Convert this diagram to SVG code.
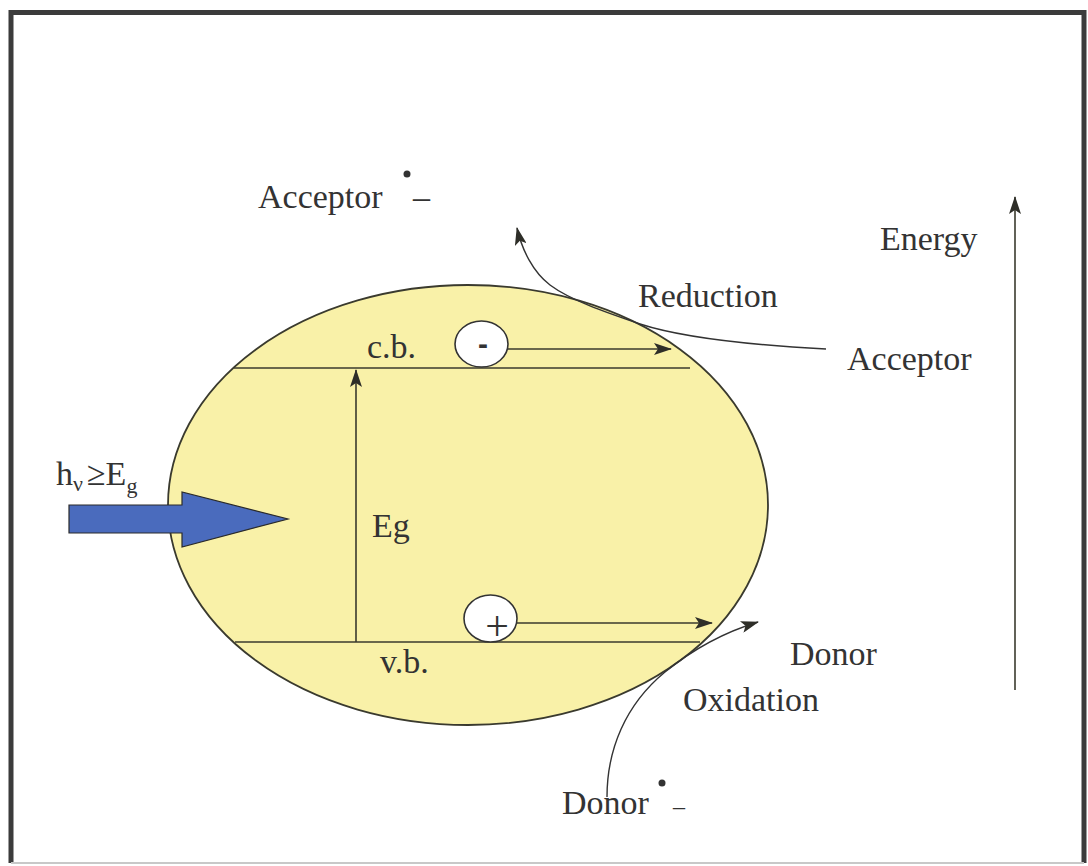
<svg xmlns="http://www.w3.org/2000/svg" width="1088" height="866" viewBox="0 0 1088 866">
<style>
.t{font-family:"Liberation Serif","Times New Roman",serif;font-size:34px;fill:#333}
.ln{stroke:#3a3a2e;stroke-width:1.6;fill:none}
.cv{stroke:#333;stroke-width:1.4;fill:none}
</style>
<defs>
<marker id="ah" markerWidth="18" markerHeight="12" refX="17" refY="6" orient="auto" markerUnits="userSpaceOnUse">
<path d="M0,0 L18,6 L0,12 L4,6 z" fill="#2e2e28"/>
</marker>
</defs>
<rect width="1088" height="866" fill="#fff"/>
<g id="frame">
<path d="M11,863 L11,12.5 L1084,12.5 L1084,863" fill="none" stroke="#3b3b3b" stroke-width="5"/>
<line x1="11" y1="863" x2="1084" y2="863" stroke="#c8c8c8" stroke-width="2"/>
</g>
<g id="particle">
<ellipse cx="468" cy="505" rx="300" ry="220" fill="#f9f1a8" stroke="#3a3a2e" stroke-width="1.8"/>
</g>
<g id="connectors">
<line class="ln" x1="234" y1="368" x2="690" y2="368"/>
<line class="ln" x1="235" y1="642" x2="700" y2="642"/>
<line class="ln" x1="356" y1="642" x2="356" y2="370" marker-end="url(#ah)"/>
<line class="ln" x1="508" y1="349" x2="671" y2="349" marker-end="url(#ah)"/>
<line class="ln" x1="517" y1="623" x2="712" y2="623" marker-end="url(#ah)"/>
<line class="ln" x1="1015" y1="690" x2="1015" y2="197" marker-end="url(#ah)"/>
<path class="cv" d="M826,349 C750,345 680,337 640,324 C605,312 570,300 550,285 C533,272 522,250 517,228" marker-end="url(#ah)"/>
<path class="cv" d="M607,797 C607,750 625,705 665,672 C692,650 725,632 758,622" marker-end="url(#ah)"/>
</g>
<g id="light">
<path d="M69,505 L182,505 L182,492 L288,519 L182,547 L182,533 L69,533 z" fill="#4a6bbd" stroke="#2a2a2a" stroke-width="1.2"/>
<text class="t" x="56" y="485">h<tspan font-size="22" dy="6">ν</tspan><tspan dy="-6" dx="4">≥E</tspan><tspan font-size="22" dy="8">g</tspan></text>
</g>
<g id="electron">
<ellipse cx="481.5" cy="344" rx="26.5" ry="23" fill="#fff" stroke="#333" stroke-width="1.6"/>
<text x="483" y="354" text-anchor="middle" style="font-family:'Liberation Sans',Arial,sans-serif;font-size:30px;font-weight:bold;fill:#333">-</text>
</g>
<g id="hole">
<ellipse cx="490.5" cy="618.5" rx="26.5" ry="23.5" fill="#fff" stroke="#333" stroke-width="1.6"/>
<text x="497" y="640" text-anchor="middle" class="t" style="font-size:42px">+</text>
</g>
<g id="labels">
<text class="t" x="367" y="358">c.b.</text>
<text class="t" x="380" y="673">v.b.</text>
<text class="t" x="372" y="537">Eg</text>
<text class="t" x="258" y="208">Acceptor</text>
<circle cx="407" cy="174" r="3.5" fill="#333"/>
<text class="t" x="413" y="208">–</text>
<text class="t" x="880" y="250">Energy</text>
<text class="t" x="638" y="307">Reduction</text>
<text class="t" x="847" y="370">Acceptor</text>
<text class="t" x="790" y="665">Donor</text>
<text class="t" x="683" y="711">Oxidation</text>
<text class="t" x="562" y="814">Donor</text>
<circle cx="662" cy="783" r="3.5" fill="#333"/>
<text class="t" x="673" y="814" style="font-size:24px">–</text>
</g>
</svg>
